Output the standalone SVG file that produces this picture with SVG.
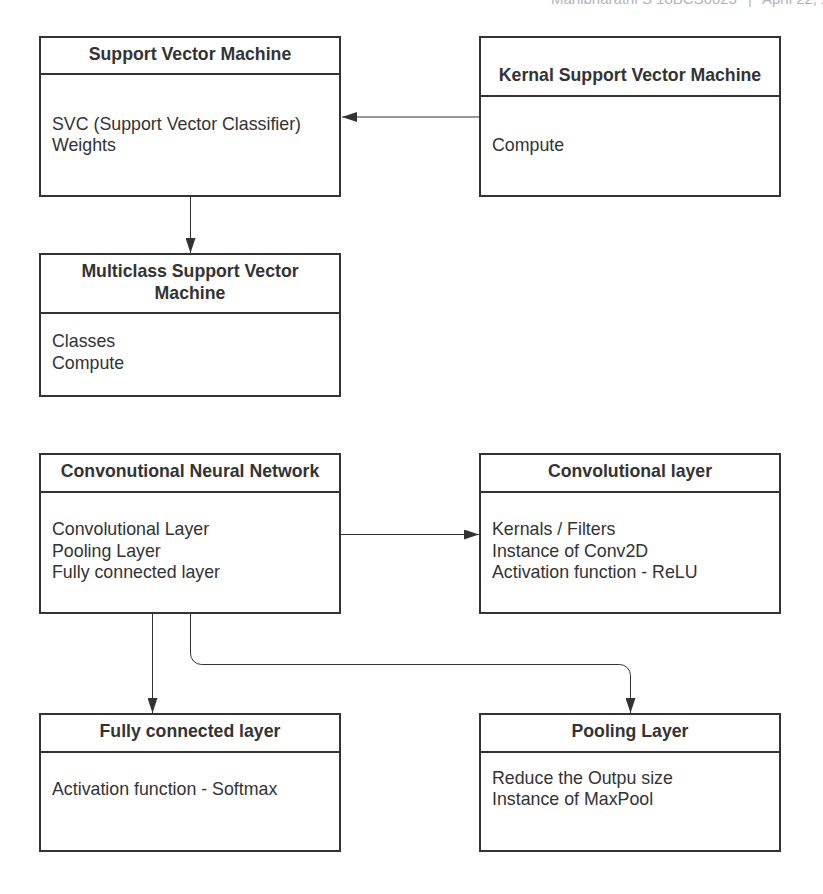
<svg xmlns="http://www.w3.org/2000/svg" width="823" height="894" viewBox="0 0 823 894">
<defs>
<style>
.box{fill:#fff;stroke:#333;stroke-width:2}
.div{stroke:#333;stroke-width:2}
.t{font-family:"Liberation Sans",Arial,sans-serif;font-size:17.7px;font-weight:bold;fill:#333;text-anchor:middle}
.b{font-family:"Liberation Sans",Arial,sans-serif;font-size:17.8px;fill:#333}
.hdr{font-family:"Liberation Sans",Arial,sans-serif;font-size:15px;fill:#b3b3b3}
.c{fill:none;stroke:#333;stroke-width:1}
</style>
<marker id="arr" markerWidth="16" markerHeight="10" refX="15" refY="5" orient="auto" markerUnits="userSpaceOnUse">
<path d="M0,0 L15,5 L0,10 z" fill="#333"/>
</marker>
</defs>
<rect width="823" height="894" fill="#fff"/>
<g id="header">
<text class="hdr" x="551" y="4">Manibharathi S 18BCS6023</text>
<text class="hdr" x="748" y="4">|</text>
<text class="hdr" x="762" y="4">April 22, 2020</text>
</g>
<g id="connectors">
<path class="c" d="M480,117 H342" marker-end="url(#arr)"/>
<path class="c" d="M190.5,196 V253" marker-end="url(#arr)"/>
<path class="c" d="M340,534.5 H479" marker-end="url(#arr)"/>
<path class="c" d="M152.5,614 V713" marker-end="url(#arr)"/>
<path class="c" d="M190.5,614 V653 A11,11 0 0 0 201.5,664.5 H619.5 A11,11 0 0 1 630.5,675.5 V713" marker-end="url(#arr)"/>
</g>
<g id="svm">
<rect class="box" x="40" y="37" width="300" height="159"/>
<line class="div" x1="40" y1="74" x2="340" y2="74"/>
<text class="t" x="190" y="60">Support Vector Machine</text>
<text class="b" x="52" y="129.5">SVC (Support Vector Classifier)</text>
<text class="b" x="52" y="151">Weights</text>
</g>
<g id="ksvm">
<rect class="box" x="480" y="37" width="300" height="159"/>
<line class="div" x1="480" y1="96" x2="780" y2="96"/>
<text class="t" x="630" y="81">Kernal Support Vector Machine</text>
<text class="b" x="492" y="150.5">Compute</text>
</g>
<g id="msvm">
<rect class="box" x="40" y="254" width="300" height="142"/>
<line class="div" x1="40" y1="313" x2="340" y2="313"/>
<text class="t" x="190" y="277">Multiclass Support Vector</text>
<text class="t" x="190" y="298.5">Machine</text>
<text class="b" x="52" y="347">Classes</text>
<text class="b" x="52" y="368.5">Compute</text>
</g>
<g id="cnn">
<rect class="box" x="40" y="454" width="300" height="159"/>
<line class="div" x1="40" y1="492" x2="340" y2="492"/>
<text class="t" x="190" y="477">Convonutional Neural Network</text>
<text class="b" x="52" y="535">Convolutional Layer</text>
<text class="b" x="52" y="556.5">Pooling Layer</text>
<text class="b" x="52" y="578">Fully connected layer</text>
</g>
<g id="conv">
<rect class="box" x="480" y="454" width="300" height="159"/>
<line class="div" x1="480" y1="492" x2="780" y2="492"/>
<text class="t" x="630" y="477">Convolutional layer</text>
<text class="b" x="492" y="535">Kernals / Filters</text>
<text class="b" x="492" y="556.5">Instance of Conv2D</text>
<text class="b" x="492" y="578">Activation function - ReLU</text>
</g>
<g id="fc">
<rect class="box" x="40" y="714" width="300" height="137"/>
<line class="div" x1="40" y1="752" x2="340" y2="752"/>
<text class="t" x="190" y="737">Fully connected layer</text>
<text class="b" x="52" y="794.5">Activation function - Softmax</text>
</g>
<g id="pool">
<rect class="box" x="480" y="714" width="300" height="137"/>
<line class="div" x1="480" y1="752" x2="780" y2="752"/>
<text class="t" x="630" y="736.5">Pooling Layer</text>
<text class="b" x="492" y="783.5">Reduce the Outpu size</text>
<text class="b" x="492" y="804.5">Instance of MaxPool</text>
</g>
</svg>
